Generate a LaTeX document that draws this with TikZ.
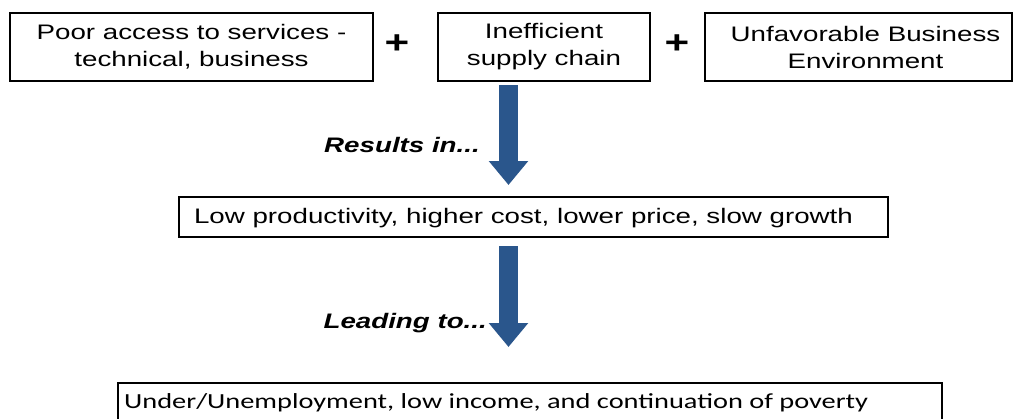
\documentclass[tikz,border=0pt]{standalone}
\usepackage{fontspec}
\setmainfont{Liberation Sans}[FakeStretch=1.32]
\newfontfamily\calib{Carlito}[FakeStretch=1.32]
\usetikzlibrary{arrows.meta,calc}
\definecolor{arrowblue}{RGB}{42,86,140}
\begin{document}
\begin{tikzpicture}[x=1pt,y=-1pt,
  box/.style={draw=black, line width=2pt, align=center, inner sep=0pt},
  toptext/.style={font=\fontsize{21}{27}\selectfont},
  plus/.style={font=\fontsize{32}{32}\selectfont\bfseries},
  bigarrow/.style={draw=arrowblue, line width=19pt, -{Triangle[width=38pt,length=24pt]}},
  lbl/.style={font=\fontsize{21}{25}\selectfont\bfseries\itshape, inner sep=0pt}]
\useasboundingbox (0,0) rectangle (1014,418);
\clip (0,0) rectangle (1014,418);
\node[box, toptext, minimum width=363, minimum height=68] (b1) at (191.5,47) {Poor access to services -\\technical, business};
\node[box, toptext, minimum width=212, minimum height=68] (b2) at (544,47) {Inefficient\\supply chain};
\node[box, minimum width=307, minimum height=68] (b3) at (858.5,47) {};
\node[toptext, align=center, inner sep=0pt] (t3) at ($(b3.center)+(7,0)$) {Unfavorable Business\\Environment};
\node[plus] (p1) at (397,44) {+};
\node[plus] (p2) at (677,44) {+};
\node[box, minimum width=709, minimum height=40] (b4) at (533.5,217) {};
\node[anchor=base, inner sep=0pt, toptext] (t4) at ($(b4.north)+(-10,27)$) {Low productivity, higher cost, lower price, slow growth};
\node[draw=black, line width=2pt, minimum width=824, minimum height=60, anchor=north west, inner sep=0pt] (b5) at (117,382) {};
\node[anchor=base west, inner sep=0pt, font=\calib\fontsize{21.5}{25}\selectfont] (t5) at ($(b5.north west)+(7,26)$) {Under/Unemployment, low income, and continuation of poverty};
\coordinate (ax) at (508.5,0);
\draw[bigarrow, shorten <=3pt, shorten >=11pt] (b2.south -| ax) -- (b4.north -| ax);
\draw[bigarrow, shorten <=8pt, shorten >=35pt] (b4.south -| ax) -- (b5.north -| ax);
\node[lbl, anchor=base east] (l1) at (480,152) {Results in...};
\node[lbl, anchor=base east] (l2) at (487,328) {Leading to...};
\end{tikzpicture}
\end{document}
